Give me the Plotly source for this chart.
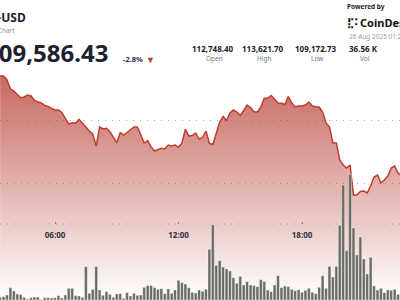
import pandas as pd
import plotly.graph_objects as go

# ---------------- data ----------------
times = pd.date_range("2025-08-25 03:20", periods=118, freq="10min")

price = [
    113397, 113397, 113270, 112984, 112921, 112825, 112708, 112730, 112794, 112762,
    112619, 112571, 112540, 112460, 112429, 112365, 112317, 112317, 112238, 112048,
    111873, 111914, 111895, 112022, 111914, 111778, 111651, 111556, 111175, 111778,
    111714, 111737, 111629, 111451, 111279, 111597, 111524, 111603, 111683, 111778,
    111778, 111524, 111270, 111349, 111143, 111016, 111070, 111102, 111079, 111206,
    111175, 111206, 111133, 111270, 111705, 111492, 111508, 111587, 111387, 111444,
    111651, 111260, 111222, 111556, 111937, 112111, 111984, 112222, 112317, 112254,
    112143, 112302, 112476, 112397, 112263, 112254, 112413, 112689, 112698, 112778,
    112667, 112540, 112530, 112492, 112746, 112540, 112413, 112444, 112444, 112476,
    112571, 112444, 112422, 112413, 112254, 111905, 111778, 111270, 111270, 110730,
    110571, 110476, 110571, 109619, 109619, 109730, 109746, 109683, 109905, 110190,
    110254, 110000, 110095, 110222, 110476, 110540, 110317, 110222,
]

volume = [
    16, 20, 30, 74, 54, 36, 32, 16, 6, 14,
    18, 18, 3, 14, 14, 12, 14, 26, 12, 30,
    70, 70, 26, 24, 16, 200, 40, 64, 200, 60,
    28, 50, 34, 16, 36, 38, 10, 44, 24, 40,
    28, 30, 76, 86, 86, 74, 64, 68, 38, 66,
    40, 60, 118, 104, 96, 74, 46, 42, 60, 52,
    64, 304, 452, 208, 236, 198, 186, 174, 134, 100,
    142, 90, 110, 90, 86, 80, 122, 111, 60, 50,
    90, 146, 74, 84, 80, 64, 56, 62, 46, 58,
    70, 46, 38, 76, 146, 70, 202, 138, 202, 448,
    690, 296, 754, 432, 270, 378, 246, 156, 256, 84,
    60, 70, 44, 60, 58, 64, 34,
]
vol_times = times[:len(volume)]

symbol = "BTC-USD"
subtitle = "Price Chart"
last_price = "109,586.43"
change_pct = "-2.8%"
stat_values = ["112,748.40", "113,621.70", "109,172.73", "36.56 K"]
stat_labels = ["Open", "High", "Low", "Vol"]
brand_caption = "Powered by"
brand_name = "CoinDesk"
timestamp = "26 Aug 2025 01:27 UTC"
grid_prices = [110000, 112000]
x_ticks = ["2025-08-25 06:00", "2025-08-25 12:00", "2025-08-25 18:00"]
x_tick_text = ["06:00", "12:00", "18:00"]

# ---------------- figure ----------------
W, H = 400, 300
FONT = "Noto Sans"
DARK = "#1b2230"
GREY = "#6f7682"
RED = "#c0392b"


def px(x):
    return x / W


def py(y):
    return 1 - y / H


y_lo, y_hi = 106285.7, 115809.5

fig = go.Figure()
fig.add_trace(go.Scatter(
    x=times, y=price, mode="lines",
    line=dict(color="#c23b2e", width=1.5),
    fill="tozeroy",
    fillgradient=dict(
        type="vertical",
        start=y_lo, stop=max(price),
        colorscale=[[0, "rgba(180,55,45,0.0)"], [1, "rgba(180,55,45,0.75)"]],
    ),
    hoverinfo="skip", showlegend=False, yaxis="y",
))
fig.add_trace(go.Bar(
    x=vol_times, y=volume,
    marker=dict(color="#686b63", line=dict(color="rgba(255,255,255,0.75)", width=0.5)),
    hoverinfo="skip", showlegend=False, yaxis="y2",
))

annotations = []


def ann(text, x, y, size, color, xanchor="center", bold=False):
    annotations.append(dict(
        text=f"<b>{text}</b>" if bold else text,
        x=px(x), y=py(y), xref="paper", yref="paper",
        xanchor=xanchor, yanchor="middle", showarrow=False,
        font=dict(family=FONT, size=size, color=color),
    ))


ann(symbol, 28, 17.5, 12, DARK, xanchor="right", bold=True)
ann(subtitle, 17, 30.5, 6.5, "#8a909a", xanchor="right")
ann(last_price, 110, 52, 24, DARK, xanchor="right", bold=True)
ann(change_pct, 121, 59, 7.5, "#2b303a", xanchor="left", bold=True)
ann("▼", 150, 59, 9, RED)

stat_x = [213, 263, 316, 363.5]
for sx, v, lab in zip(stat_x, stat_values, stat_labels):
    ann(v, sx, 48, 8, DARK, bold=True)
    ann(lab, sx + 1, 58.5, 6.5, GREY)

ann(brand_caption, 345, 7, 6.5, "#222", xanchor="left", bold=True)
ann("⣏⠅", 345, 22, 10, "#111", xanchor="left", bold=True)
ann(brand_name, 357.5, 22, 11, "#111", xanchor="left", bold=True)
ann(timestamp, 346.5, 37, 6.5, "#9aa0a8", xanchor="left")

fig.update_layout(
    width=W, height=H, autosize=False,
    margin=dict(l=0, r=0, t=0, b=0, pad=0),
    paper_bgcolor="white", plot_bgcolor="white",
    bargap=0.18,
    annotations=annotations,
    shapes=[dict(
        type="line", xref="paper", yref="paper",
        x0=0, x1=1, y0=py(224), y1=py(224),
        line=dict(color="#b0b0b0", width=1, dash="1px,6px"), layer="below",
    )],
    xaxis=dict(
        range=["2025-08-25 03:19:37", "2025-08-25 22:45:36"],
        anchor="free", position=py(224),
        showgrid=False, zeroline=False, showline=False,
        tickvals=x_ticks, ticktext=x_tick_text,
        ticks="inside", ticklen=2, tickcolor="#888", tickwidth=1,
        ticklabelstandoff=5,
        tickfont=dict(family=FONT, size=8, color="#2d3340", weight="bold"),
    ),
    yaxis=dict(
        range=[y_lo, y_hi], tickvals=grid_prices, showticklabels=False,
        showgrid=True, gridcolor="#b3b3b3", gridwidth=1, griddash="1px,6px",
        zeroline=False, showline=False, ticks="",
    ),
    yaxis2=dict(
        range=[0, 1800], overlaying="y", side="right",
        showgrid=False, showticklabels=False, zeroline=False, showline=False, ticks="",
    ),
)

fig.write_html("out.html")
